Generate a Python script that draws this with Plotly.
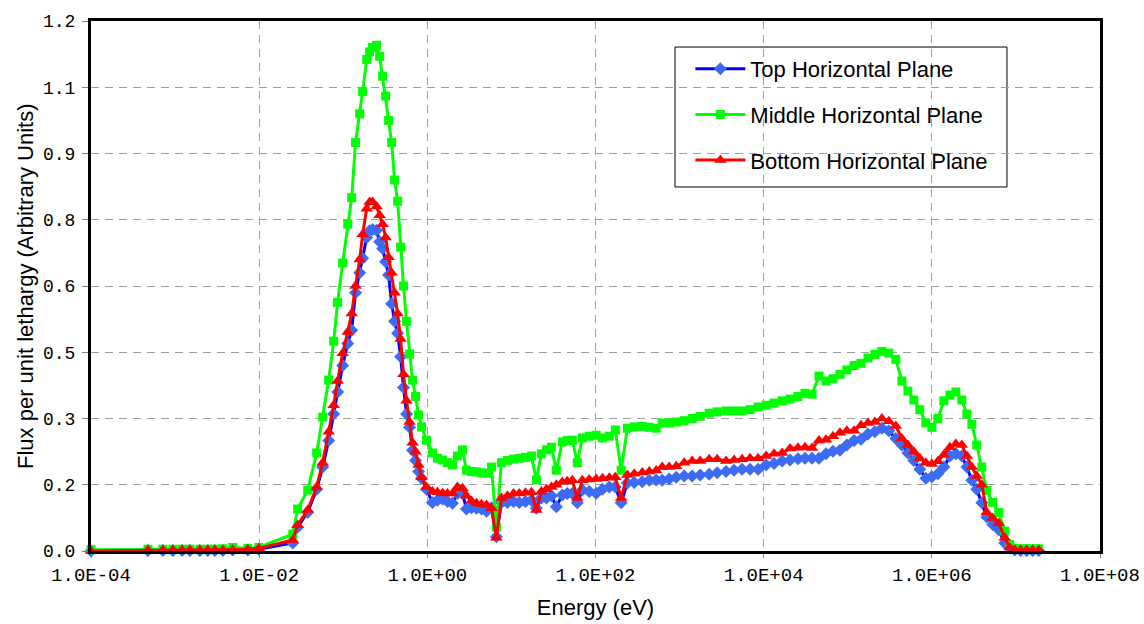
import plotly.graph_objects as go

energy_ev = [
    1.0e-4, 4.75e-4, 7.16e-4, 9.42e-4, 1.21e-3, 1.50e-3, 1.97e-3, 2.45e-3, 2.97e-3, 3.70e-3,
    4.85e-3, 7.33e-3, 9.89e-3, 2.51e-2, 2.87e-2, 3.78e-2, 4.83e-2, 5.69e-2, 6.71e-2, 7.69e-2,
    8.57e-2, 9.84e-2, 0.113, 0.126, 0.140, 0.157, 0.170, 0.190, 0.206, 0.223,
    0.249, 0.271, 0.294, 0.319, 0.346, 0.376, 0.408, 0.443, 0.481, 0.521,
    0.566, 0.615, 0.667, 0.724, 0.786, 0.853, 0.977, 1.15, 1.32, 1.52,
    1.74, 1.99, 2.28, 2.62, 2.92, 3.35, 3.84, 4.40, 5.05, 5.79,
    6.63, 7.60, 8.96, 10.6, 12.4, 14.7, 17.3, 19.8, 22.7, 26.1,
    29.9, 34.2, 40.3, 46.2, 53.0, 60.8, 69.7, 84.3, 102, 121,
    146, 172, 202, 239, 289, 360, 436, 527, 621, 752,
    912, 1135, 1413, 1758, 2249, 2800, 3573, 4449, 5539, 6890,
    8590, 1.07e4, 1.33e4, 1.66e4, 2.06e4, 2.56e4, 3.10e4, 3.76e4, 4.55e4, 5.51e4,
    6.67e4, 8.07e4, 9.77e4, 1.19e5, 1.44e5, 1.74e5, 2.10e5, 2.55e5, 3.08e5, 3.73e5,
    4.40e5, 5.19e5, 6.11e5, 7.19e5, 8.49e5, 1.00e6, 1.18e6, 1.39e6, 1.64e6, 1.93e6,
    2.27e6, 2.61e6, 2.99e6, 3.42e6, 3.93e6, 4.50e6, 5.30e6, 6.25e6, 7.36e6, 8.44e6,
    9.68e6, 1.14e7, 1.34e7, 1.58e7, 1.87e7,
]

middle_plane = [
    0.003, 0.004, 0.004, 0.004, 0.004, 0.004, 0.004, 0.004, 0.004, 0.005,
    0.008, 0.006, 0.008, 0.038, 0.095, 0.138, 0.222, 0.303, 0.387, 0.475,
    0.563, 0.652, 0.740, 0.800, 0.925, 0.990, 1.040, 1.113, 1.130, 1.140,
    1.145, 1.120, 1.075, 1.030, 0.975, 0.925, 0.840, 0.792, 0.688, 0.600,
    0.520, 0.446, 0.387, 0.350, 0.308, 0.281, 0.251, 0.222, 0.210, 0.206,
    0.200, 0.195, 0.215, 0.229, 0.183, 0.180, 0.179, 0.177, 0.176, 0.190,
    0.054, 0.200, 0.205, 0.208, 0.210, 0.212, 0.215, 0.161, 0.220, 0.229,
    0.235, 0.183, 0.247, 0.250, 0.251, 0.200, 0.256, 0.260, 0.262, 0.256,
    0.260, 0.274, 0.183, 0.278, 0.281, 0.282, 0.280, 0.278, 0.290, 0.290,
    0.292, 0.295, 0.300, 0.305, 0.312, 0.315, 0.317, 0.317, 0.317, 0.320,
    0.326, 0.330, 0.335, 0.340, 0.344, 0.350, 0.357, 0.355, 0.396, 0.385,
    0.390, 0.400, 0.410, 0.420, 0.425, 0.437, 0.445, 0.452, 0.448, 0.434,
    0.385, 0.362, 0.342, 0.320, 0.290, 0.280, 0.300, 0.340, 0.353, 0.360,
    0.342, 0.310, 0.287, 0.240, 0.190, 0.137, 0.110, 0.087, 0.045, 0.015,
    0.006, 0.005, 0.005, 0.005, 0.005,
]

bottom_plane = [
    0.000, 0.002, 0.002, 0.002, 0.002, 0.002, 0.002, 0.002, 0.002, 0.002,
    0.003, 0.004, 0.006, 0.025, 0.059, 0.093, 0.145, 0.200, 0.270, 0.330,
    0.385, 0.448, 0.496, 0.538, 0.600, 0.660, 0.717, 0.775, 0.790, 0.790,
    0.780, 0.760, 0.740, 0.710, 0.665, 0.630, 0.585, 0.538, 0.480, 0.400,
    0.340, 0.292, 0.245, 0.225, 0.195, 0.167, 0.145, 0.135, 0.133, 0.131,
    0.130, 0.130, 0.145, 0.142, 0.125, 0.113, 0.108, 0.106, 0.104, 0.097,
    0.030, 0.120, 0.125, 0.130, 0.130, 0.132, 0.133, 0.093, 0.135, 0.140,
    0.145, 0.150, 0.156, 0.158, 0.160, 0.120, 0.160, 0.162, 0.163, 0.165,
    0.166, 0.167, 0.120, 0.172, 0.175, 0.178, 0.180, 0.182, 0.190, 0.190,
    0.192, 0.200, 0.204, 0.204, 0.208, 0.208, 0.204, 0.206, 0.208, 0.210,
    0.210, 0.215, 0.220, 0.222, 0.232, 0.234, 0.235, 0.233, 0.250, 0.252,
    0.260, 0.268, 0.272, 0.272, 0.285, 0.290, 0.292, 0.300, 0.294, 0.283,
    0.255, 0.240, 0.225, 0.210, 0.200, 0.197, 0.203, 0.218, 0.235, 0.242,
    0.240, 0.215, 0.190, 0.170, 0.150, 0.088, 0.075, 0.063, 0.030, 0.008,
    0.003, 0.002, 0.002, 0.002, 0.002,
]

top_plane = [
    0.000, 0.001, 0.001, 0.001, 0.001, 0.001, 0.001, 0.001, 0.001, 0.001,
    0.002, 0.002, 0.004, 0.018, 0.054, 0.088, 0.140, 0.190, 0.250, 0.310,
    0.360, 0.420, 0.470, 0.500, 0.585, 0.630, 0.663, 0.710, 0.725, 0.728,
    0.726, 0.700, 0.685, 0.655, 0.625, 0.560, 0.520, 0.493, 0.440, 0.370,
    0.310, 0.280, 0.228, 0.205, 0.180, 0.165, 0.140, 0.110, 0.115, 0.118,
    0.112, 0.108, 0.130, 0.130, 0.095, 0.098, 0.097, 0.095, 0.090, 0.098,
    0.032, 0.110, 0.110, 0.112, 0.110, 0.112, 0.115, 0.097, 0.120, 0.120,
    0.125, 0.100, 0.127, 0.130, 0.130, 0.109, 0.138, 0.135, 0.131, 0.140,
    0.145, 0.145, 0.109, 0.154, 0.155, 0.157, 0.160, 0.161, 0.160, 0.163,
    0.167, 0.170, 0.170, 0.172, 0.174, 0.177, 0.180, 0.183, 0.185, 0.185,
    0.185, 0.195, 0.198, 0.204, 0.206, 0.209, 0.210, 0.210, 0.210, 0.220,
    0.226, 0.228, 0.240, 0.250, 0.253, 0.265, 0.270, 0.278, 0.272, 0.255,
    0.240, 0.222, 0.205, 0.185, 0.165, 0.168, 0.175, 0.190, 0.215, 0.220,
    0.215, 0.190, 0.160, 0.140, 0.109, 0.077, 0.060, 0.048, 0.018, 0.007,
    0.002, 0.001, 0.001, 0.001, 0.001,
]

x_tick_vals = [1e-4, 1e-2, 1e0, 1e2, 1e4, 1e6, 1e8]
x_tick_text = ["1.0E-04", "1.0E-02", "1.0E+00", "1.0E+02", "1.0E+04", "1.0E+06", "1.0E+08"]
y_tick_vals = [0.0, 0.15, 0.30, 0.45, 0.60, 0.75, 0.90, 1.05, 1.20]
y_tick_text = ["0.0", "0.2", "0.3", "0.5", "0.6", "0.8", "0.9", "1.1", "1.2"]
y_title = "Flux per unit lethargy (Arbitrary Units)"

fig = go.Figure()
fig.add_trace(go.Scatter(
    x=energy_ev, y=top_plane, name="Top Horizontal Plane", mode="lines+markers",
    line=dict(color="#0000FF", width=3),
    marker=dict(symbol="diamond", size=10, color="#3D6BF5", line=dict(width=0)),
    cliponaxis=False, legendgroup="a"))
fig.add_trace(go.Scatter(
    x=energy_ev, y=middle_plane, name="Middle Horizontal Plane", mode="lines+markers",
    line=dict(color="#00FF00", width=3),
    marker=dict(symbol="square", size=9, color="#00FF00", line=dict(width=0)),
    cliponaxis=False, legendgroup="b"))
fig.add_trace(go.Scatter(
    x=energy_ev, y=bottom_plane, name="Bottom Horizontal Plane", mode="lines+markers",
    line=dict(color="#FF0000", width=3),
    marker=dict(symbol="triangle-up", size=11, color="#FF0000", line=dict(width=0)),
    cliponaxis=False, legendgroup="c"))

fig.update_layout(
    width=1144, height=624,
    margin=dict(l=91, r=44, t=21, b=73),
    paper_bgcolor="white", plot_bgcolor="white",
    font=dict(family="Liberation Sans, Arial, sans-serif", color="black"),
    legend=dict(
        x=0.594, y=0.949, xanchor="left", yanchor="top",
        bgcolor="rgba(0,0,0,0)", borderwidth=0,
        font=dict(size=22, family="Liberation Sans, Arial, sans-serif"),
        itemwidth=50, tracegroupgap=14,
    ),
    shapes=[dict(
        type="rect", xref="paper", yref="paper",
        x0=0.5788, x1=0.9078, y0=0.6868, y1=0.9509,
        line=dict(color="black", width=1), fillcolor="white", layer="below",
    )],
    annotations=[dict(
        text=y_title, xref="paper", yref="paper", x=-0.0654, y=0.5,
        xanchor="center", yanchor="middle", textangle=-90, showarrow=False,
        font=dict(size=22, family="Liberation Sans, Arial, sans-serif", color="black"),
    )],
    showlegend=True,
)
fig.update_xaxes(
    type="log", range=[-4, 8], automargin=False,
    tickvals=x_tick_vals, ticktext=x_tick_text,
    tickfont=dict(family="Liberation Mono, Courier New, monospace", size=19),
    showgrid=True, gridcolor="#A0A0A0", gridwidth=1, griddash="8px,6px",
    showline=True, linecolor="black", linewidth=3, mirror=True,
    ticks="outside", ticklen=4, tickcolor="#808080", tickwidth=1,
    zeroline=False,
    title=dict(text="Energy (eV)", font=dict(size=22), standoff=14),
)
fig.update_yaxes(
    range=[0, 1.2], automargin=False,
    tickvals=y_tick_vals, ticktext=y_tick_text,
    tickfont=dict(family="Liberation Mono, Courier New, monospace", size=18),
    showgrid=True, gridcolor="#A0A0A0", gridwidth=1, griddash="8px,6px",
    showline=True, linecolor="black", linewidth=3, mirror=True,
    ticks="outside", ticklen=6, tickcolor="#808080", tickwidth=1,
    ticklabelstandoff=3,
    zeroline=False,
)

# remove the browser's default page margin so the 1144x624 figure fills the window
page_fix = ("document.body.style.margin='0px';"
            "document.body.style.overflow='hidden';"
            "document.documentElement.style.overflow='hidden';")
fig.write_html("out.html", post_script=page_fix, config={"displayModeBar": False})
